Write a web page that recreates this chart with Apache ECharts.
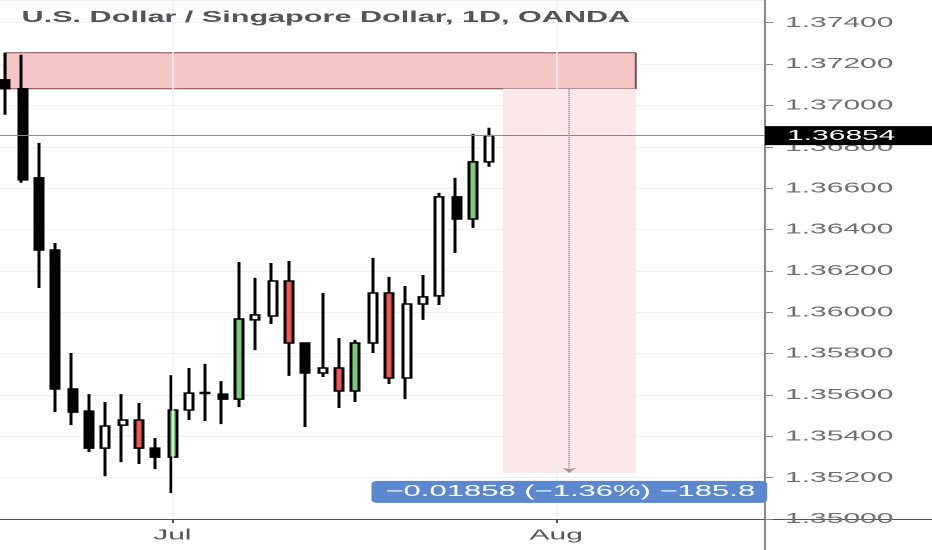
<!DOCTYPE html>
<html>
<head>
<meta charset="utf-8">
<script src="https://cdn.jsdelivr.net/npm/echarts@6/dist/echarts.min.js"></script>
<style>
html, body { margin: 0; padding: 0; overflow: hidden; background: #fff; width: 932px; height: 550px; }
#chart { width: 466px; height: 550px; transform: scaleX(2); transform-origin: 0 0; }
</style>
</head>
<body>
<div id="chart"></div>
<script>
// ---- data ----
const titleText = 'U.S. Dollar / Singapore Dollar, 1D, OANDA';
const dates = [
  '2019-06-17','2019-06-18','2019-06-19','2019-06-20','2019-06-21',
  '2019-06-24','2019-06-25','2019-06-26','2019-06-27','2019-06-28',
  '2019-07-01','2019-07-02','2019-07-03','2019-07-04','2019-07-05',
  '2019-07-08','2019-07-09','2019-07-10','2019-07-11','2019-07-12',
  '2019-07-15','2019-07-16','2019-07-17','2019-07-18','2019-07-19',
  '2019-07-22','2019-07-23','2019-07-24','2019-07-25','2019-07-26',
  '2019-07-29','2019-07-30','2019-07-31','2019-08-01','2019-08-02',
  '2019-08-05','2019-08-06','2019-08-07','2019-08-08','2019-08-09',
  '2019-08-12','2019-08-13','2019-08-14','2019-08-15','2019-08-16',
  '2019-08-19'
];
const opens  = [1.37124,1.37081,1.36650,1.36301,1.35629,1.35522,1.35343,1.35454,1.35479,1.35343,
                1.35299,1.35527,1.35612,1.35604,1.35580,1.35963,1.35982,1.36151,1.35851,1.35706,
                1.35730,1.35619,1.35851,1.36093,1.35682,1.36040,1.36079,1.36558,1.36451,1.36727];
const closes = [1.37081,1.36640,1.36301,1.35629,1.35517,1.35343,1.35450,1.35479,1.35343,1.35299,
                1.35527,1.35609,1.35607,1.35580,1.35967,1.35987,1.36151,1.35851,1.35706,1.35730,
                1.35619,1.35851,1.36093,1.35682,1.36040,1.36074,1.36558,1.36451,1.36727,1.36854];
const lows   = [1.36955,1.36626,1.36117,1.35517,1.35454,1.35324,1.35207,1.35275,1.35266,1.35241,
                1.35125,1.35479,1.35474,1.35459,1.35541,1.35817,1.35943,1.35692,1.35445,1.35687,
                1.35537,1.35566,1.35803,1.35653,1.35580,1.35963,1.36035,1.36287,1.36408,1.36703];
const highs  = [1.37255,1.37245,1.36819,1.36335,1.35803,1.35604,1.35566,1.35604,1.35561,1.35391,
                1.35696,1.35730,1.35750,1.35667,1.36243,1.36166,1.36238,1.36248,1.35855,1.36093,
                1.35875,1.35866,1.36263,1.36171,1.36127,1.36180,1.36577,1.36650,1.36863,1.36892];
// candles marked (coloured) on the chart
const marked = [0,0,0,0,0,0,0,0,1,0, 1,0,0,0,1,0,0,1,0,0, 1,1,0,1,0,0,0,0,1,0];
const lastPrice = 1.36854;
// supply zone (index positions along the date axis, prices)
const zoneFrom = 0, zoneTo = 37.76, zoneHigh = 1.37255, zoneLow = 1.37081;
// price range measurement
const rangeFrom = 29.8, rangeTo = 37.76, rangeStartPrice = 1.37081, rangeChange = -0.01858;
const yMin = 1.35, yMax = 1.3751, yStep = 0.002;
const monthNames = ['Jan','Feb','Mar','Apr','May','Jun','Jul','Aug','Sep','Oct','Nov','Dec'];

// ---- derived ----
const monthStarts = dates.map((d, i) => (i > 0 && d.slice(5, 7) !== dates[i - 1].slice(5, 7)) ? i : -1).filter(i => i >= 0);
const candleData = opens.map((o, i) => {
  const up = closes[i] >= o;
  const fill = marked[i] ? (up ? '#7ccb7b' : '#f05656') : (up ? '#ffffff' : '#000000');
  return { value: [o, closes[i], lows[i], highs[i]],
           itemStyle: { color: fill, color0: fill, borderColor: '#000', borderColor0: '#000' } };
});
const rangeEndPrice = rangeStartPrice + rangeChange;
const rangeMid = (rangeFrom + rangeTo) / 2;
const minus = s => s.replace(/-/g, '\u2212');
const rangeLabel = minus(rangeChange.toFixed(5) + ' (' + (rangeChange / rangeStartPrice * 100).toFixed(2) + '%) ' + (rangeChange * 10000).toFixed(1));

const font = 'Liberation Sans, Arial, sans-serif';
const chart = echarts.init(document.getElementById('chart'), null, { devicePixelRatio: 2 });
chart.setOption({
  animation: false,
  backgroundColor: '#ffffff',
  title: {
    text: titleText, left: 10.8, top: 10.5, padding: 0,
    textStyle: { fontFamily: font, fontSize: 15.3, fontWeight: 'bold', color: '#555555' }
  },
  grid: [
    { left: -1.5, right: 83.5, top: 0, bottom: 31, outerBoundsMode: 'none', containLabel: false },
    { left: 382.5, right: 0, top: 0, bottom: 0, outerBoundsMode: 'none', containLabel: false }
  ],
  xAxis: [
    {
      type: 'category', gridIndex: 0, data: dates, boundaryGap: true,
      axisLine: { show: true, onZero: false, lineStyle: { color: '#555555', width: 1 } },
      axisTick: { show: true, alignWithLabel: true, length: 4, interval: (i) => monthStarts.includes(i), lineStyle: { color: '#555555' } },
      axisLabel: {
        show: true, interval: (i) => monthStarts.includes(i), margin: 9,
        formatter: (v) => monthNames[parseInt(v.slice(5, 7), 10) - 1],
        fontFamily: font, fontSize: 15, color: '#555555'
      },
      splitLine: { show: false }
    },
    { type: 'value', gridIndex: 0, min: -0.5, max: dates.length - 0.5, show: false },
    {
      type: 'value', gridIndex: 1, min: 0, max: 1,
      axisLine: { show: true, onZero: true, lineStyle: { color: '#555555', width: 1 } },
      axisTick: { show: false }, axisLabel: { show: false }, splitLine: { show: false }
    }
  ],
  yAxis: [
    {
      type: 'value', gridIndex: 0, position: 'right', min: yMin, max: yMax, interval: yStep,
      axisLine: { show: true, onZero: false, lineStyle: { color: '#888888', width: 1 } },
      axisTick: { show: true, length: 4, lineStyle: { color: '#888888' } },
      axisLabel: {
        show: true, margin: 10, showMaxLabel: false,
        formatter: (v) => v.toFixed(5),
        fontFamily: font, fontSize: 15, color: '#707070'
      },
      splitLine: { show: true, lineStyle: { color: '#eef0f3', width: 1 } }
    },
    {
      type: 'value', gridIndex: 1, min: -31, max: 519,
      axisLine: { show: true, onZero: true, lineStyle: { color: '#888888', width: 1 } },
      axisTick: { show: false }, axisLabel: { show: false }, splitLine: { show: false }
    }
  ],
  series: [
    {
      name: 'monthGrid', type: 'line', xAxisIndex: 1, yAxisIndex: 0, data: [], z: 1, silent: true,
      markLine: {
        silent: true, symbol: ['none', 'none'], label: { show: false }, precision: 5,
        lineStyle: { color: '#eef0f3', width: 0.75, type: 'solid' },
        data: monthStarts.map(i => ({ xAxis: i }))
      }
    },
    {
      name: 'zones', type: 'line', xAxisIndex: 1, yAxisIndex: 0, data: [], z: 1, silent: true,
      markArea: {
        silent: true, label: { show: false },
        data: [
          [{ xAxis: zoneFrom, yAxis: zoneHigh, itemStyle: { color: '#f4c6c6', borderColor: '#7d4b4b', borderWidth: 1 } },
           { xAxis: zoneTo, yAxis: zoneLow }],
          [{ xAxis: rangeFrom, yAxis: rangeStartPrice, itemStyle: { color: '#fbe7ea', borderWidth: 0 } },
           { xAxis: rangeTo, yAxis: rangeEndPrice }]
        ]
      }
    },
    {
      name: 'USDSGD', type: 'candlestick', xAxisIndex: 0, yAxisIndex: 0, z: 2,
      barWidth: 4.5,
      itemStyle: { color: '#ffffff', color0: '#000000', borderColor: '#000000', borderColor0: '#000000', borderWidth: 1.5 },
      data: candleData
    },
    {
      name: 'markers', type: 'line', xAxisIndex: 1, yAxisIndex: 0, data: [], z: 3, silent: true,
      markLine: {
        silent: true, symbol: ['none', 'none'], precision: 5,
        data: [
          {
            yAxis: lastPrice,
            lineStyle: { color: '#8a8a8a', width: 1, type: 'solid' },
            label: {
              show: true, position: 'end', distance: 0,
              formatter: () => lastPrice.toFixed(5),
              fontFamily: font, fontSize: 15, color: '#ffffff',
              backgroundColor: '#000000', padding: [2, 20, 2, 11]
            }
          },
          [
            { coord: [rangeMid, rangeStartPrice], symbol: 'none',
              lineStyle: { color: '#999999', width: 1, type: 'dotted' },
              label: {
                show: true, position: 'end', distance: 8,
                formatter: () => rangeLabel,
                fontFamily: font, fontSize: 15.5, color: '#ffffff',
                backgroundColor: '#5b88cf', borderRadius: 3, padding: [3, 6, 3, 7]
              } },
            { coord: [rangeMid, rangeEndPrice], symbol: 'arrow', symbolSize: [5, 5] }
          ]
        ]
      }
    }
  ]
});
</script>
</body>
</html>
